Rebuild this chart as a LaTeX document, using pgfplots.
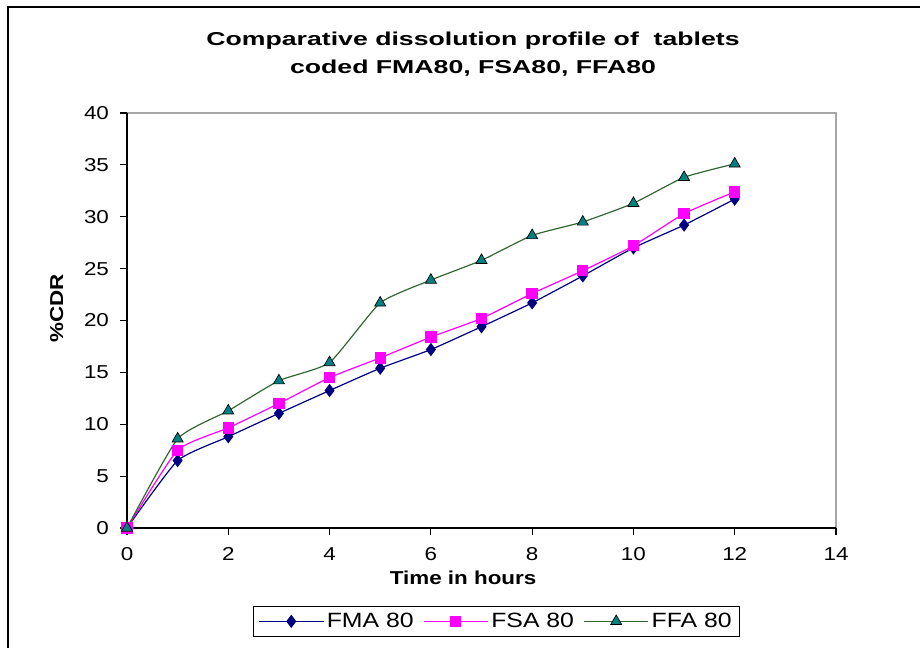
\documentclass[border=0pt]{standalone}
\usepackage{pgfplots}
\pgfplotsset{compat=1.18}
\usepackage{fontspec}
\setmainfont{Liberation Sans}[FakeStretch=1.2]
\definecolor{fma}{RGB}{0,0,128}
\definecolor{fsa}{RGB}{255,0,255}
\definecolor{ffaline}{RGB}{51,102,51}
\definecolor{ffamark}{RGB}{0,128,128}
\begin{document}
\begin{tikzpicture}[x=0.75pt,y=0.75pt]
\path[use as bounding box] (0,0) rectangle (920,648);
\draw[line width=1.2pt] (8,0) -- (8,641) -- (920,641);
\node[font=\bfseries\fontsize{14}{21}\selectfont, align=center] at (473,594) {\scalebox{1.19}[1]{Comparative dissolution profile of\ \ tablets}\\\scalebox{1.19}[1]{coded FMA80, FSA80, FFA80}};
\begin{axis}[
  at={(95.25pt,90pt)}, anchor=origin,
  scale only axis, width=531.75pt, height=311.25pt,
  xmin=0, xmax=14, ymin=0, ymax=40,
  xtick={0,2,...,14}, ytick={0,5,...,40},
  axis line style={draw=none},
  tick align=outside, tick pos=lower,
  major tick length=5pt,
  tick style={black, line width=0.8pt},
  ticklabel style={font=\fontsize{14}{16}\selectfont},
  xticklabel style={yshift=-6pt},
  yticklabel style={xshift=-5pt},
  /pgf/number format/assume math mode=true,
  xlabel={\bfseries Time in hours},
  ylabel={\bfseries \%CDR},
  xlabel style={font=\fontsize{14}{16}\selectfont, at={(axis description cs:0.474,-0.12)}, anchor=center},
  ylabel style={font=\fontsize{14}{16}\selectfont, at={(axis description cs:-0.099,0.53)}, anchor=center},
  clip=false,
  legend style={at={(0.521,-0.225)}, anchor=center, legend columns=-1,
    draw=black, line width=0.8pt, font=\fontsize{15.5}{18}\selectfont,
    inner xsep=4pt, inner ysep=3pt,
    /tikz/every even column/.append style={column sep=5pt}},
  legend image code/.code={
    \draw[#1, mark repeat=2, mark phase=2] plot coordinates {(0cm,0cm) (0.85cm,0cm) (1.7cm,0cm)};
  },
  legend cell align=left,
]
\draw[gray!70, line width=1.2pt] (axis cs:0,40) -- (axis cs:14,40) -- (axis cs:14,0);
\draw[black, line width=0.8pt] (axis cs:0,40) -- (axis cs:0,0) -- (axis cs:14,0);
\addplot[fma, line width=0.9pt, smooth, tension=0.3, mark=diamond*, mark size=4.3pt, mark options={fill=fma}]
coordinates {(0,0) (1,6.5) (2,8.8) (3,11.05) (4,13.25) (5,15.4) (6,17.2) (7,19.4) (8,21.7) (9,24.3) (10,27.0) (11,29.2) (12,31.7)};
\addlegendentry{FMA 80}
\addplot[fsa, line width=0.9pt, smooth, tension=0.3, mark=square*, mark size=3.8pt, mark options={fill=fsa}]
coordinates {(0,0) (1,7.5) (2,9.65) (3,12.0) (4,14.5) (5,16.4) (6,18.4) (7,20.2) (8,22.6) (9,24.8) (10,27.2) (11,30.3) (12,32.4)};
\addlegendentry{FSA 80}
\addplot[ffaline, line width=0.9pt, smooth, tension=0.3, mark=triangle*, mark size=4.8pt, mark options={fill=ffamark, draw=black, line width=0.5pt}]
coordinates {(0,0) (1,8.6) (2,11.3) (3,14.2) (4,15.95) (5,21.7) (6,23.9) (7,25.8) (8,28.2) (9,29.5) (10,31.3) (11,33.8) (12,35.1)};
\addlegendentry{FFA 80}
\end{axis}
\end{tikzpicture}
\end{document}
